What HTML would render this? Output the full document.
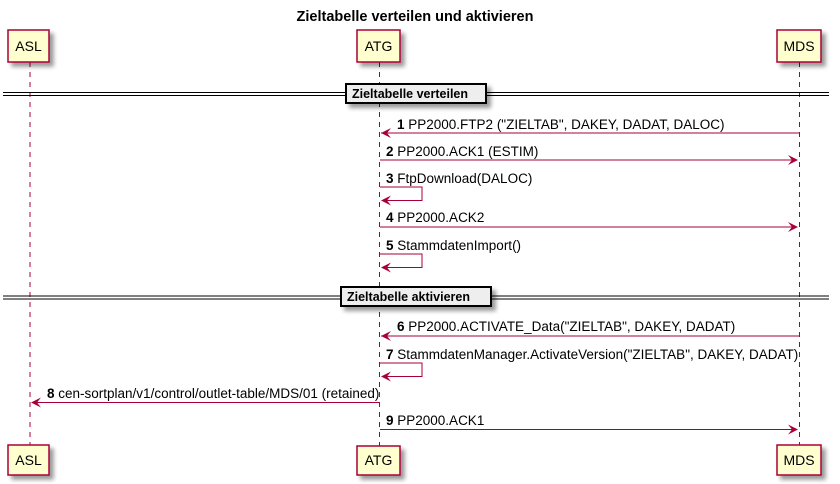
<!DOCTYPE html>
<html><head><meta charset="utf-8"><style>
html,body{margin:0;padding:0;background:#fff;}
svg{display:block;}
text{font-family:"Liberation Sans",sans-serif;font-size:13.5px;fill:#000;}
.b{font-weight:bold;}
.p{font-size:14px;}
</style></head><body>
<svg width="840" height="484" viewBox="0 0 840 484" xmlns="http://www.w3.org/2000/svg">
<defs>
<filter id="sh" x="-20%" y="-20%" width="150%" height="150%"><feGaussianBlur in="SourceAlpha" stdDeviation="2"/><feOffset dx="4" dy="4"/><feComponentTransfer><feFuncA type="linear" slope="0.4"/></feComponentTransfer><feMerge><feMergeNode/><feMergeNode in="SourceGraphic"/></feMerge></filter>
</defs>
<text x="415" y="21" text-anchor="middle" class="b" style="font-size:14.5px">Zieltabelle verteilen und aktivieren</text>
<g stroke="#A80036" stroke-width="1" stroke-dasharray="5,5">
<line x1="30" y1="62" x2="30" y2="446"/>
<line x1="379.5" y1="62" x2="379.5" y2="446"/>
<line x1="799.5" y1="62" x2="799.5" y2="446"/>
</g>
<g fill="#FEFECE" stroke="#A80036" stroke-width="1.5" filter="url(#sh)">
<rect x="8" y="30" width="41" height="32"/>
<rect x="357" y="30" width="43" height="32"/>
<rect x="777" y="30" width="44" height="32"/>
<rect x="8" y="445" width="41" height="30"/>
<rect x="357" y="446" width="43" height="29"/>
<rect x="777" y="445" width="44" height="30"/>
</g>
<g text-anchor="middle" class="p">
<text x="28.5" y="51" class="p">ASL</text><text x="378.5" y="51" class="p">ATG</text><text x="799" y="51" class="p">MDS</text>
<text x="28.5" y="465" class="p">ASL</text><text x="378.5" y="465" class="p">ATG</text><text x="799" y="465" class="p">MDS</text>
</g>
<g stroke="#000" stroke-width="1">
<line x1="3" y1="92.5" x2="829" y2="92.5"/><line x1="3" y1="95.5" x2="829" y2="95.5"/>
<line x1="3" y1="296" x2="829" y2="296"/><line x1="3" y1="299" x2="829" y2="299"/>
</g>
<g fill="#EEEEEE" stroke="#000" stroke-width="2" filter="url(#sh)">
<rect x="346" y="84" width="140" height="19"/>
<rect x="341" y="287" width="150" height="19"/>
</g>
<text x="352" y="98" class="b" style="font-size:12.5px">Zieltabelle verteilen</text>
<text x="347" y="301" class="b" style="font-size:12.5px">Zieltabelle aktivieren</text>
<g stroke="#A80036" stroke-width="1" fill="none">
<line x1="381" y1="133" x2="799" y2="133"/>
<line x1="380" y1="160" x2="797" y2="160"/>
<polyline points="380,187 422,187 422,200.5 382,200.5"/>
<line x1="380" y1="227" x2="797" y2="227"/>
<polyline points="380,254 422,254 422,267.5 382,267.5"/>
<line x1="381" y1="336" x2="799" y2="336"/>
<polyline points="380,363 422,363 422,376.5 382,376.5"/>
<line x1="32" y1="402.5" x2="379" y2="402.5"/>
<line x1="380" y1="429.5" x2="797" y2="429.5"/>
</g>
<g fill="#A80036">
<polygon points="381,133 391,128 387,133 391,138"/>
<polygon points="798,160 788,155 792,160 788,165"/>
<polygon points="381,200.5 391,195.5 387,200.5 391,205.5"/>
<polygon points="798,227 788,222 792,227 788,232"/>
<polygon points="381,267.5 391,262.5 387,267.5 391,272.5"/>
<polygon points="381,336 391,331 387,336 391,341"/>
<polygon points="381,376.5 391,371.5 387,376.5 391,381.5"/>
<polygon points="31,402.5 41,397.5 37,402.5 41,407.5"/>
<polygon points="798,429.5 788,424.5 792,429.5 788,434.5"/>
</g>
<text x="397" y="129"><tspan class="b">1</tspan> PP2000.FTP2 ("ZIELTAB", DAKEY, DADAT, DALOC)</text>
<text x="386" y="156"><tspan class="b">2</tspan> PP2000.ACK1 (ESTIM)</text>
<text x="386" y="183"><tspan class="b">3</tspan> FtpDownload(DALOC)</text>
<text x="386" y="222"><tspan class="b">4</tspan> PP2000.ACK2</text>
<text x="386" y="250"><tspan class="b">5</tspan> StammdatenImport()</text>
<text x="397" y="331"><tspan class="b">6</tspan> PP2000.ACTIVATE_Data("ZIELTAB", DAKEY, DADAT)</text>
<text x="386" y="359"><tspan class="b">7</tspan> StammdatenManager.ActivateVersion("ZIELTAB", DAKEY, DADAT)</text>
<text x="47" y="398"><tspan class="b">8</tspan> cen-sortplan/v1/control/outlet-table/MDS/01 (retained)</text>
<text x="386" y="425"><tspan class="b">9</tspan> PP2000.ACK1</text>
</svg>
</body></html>
